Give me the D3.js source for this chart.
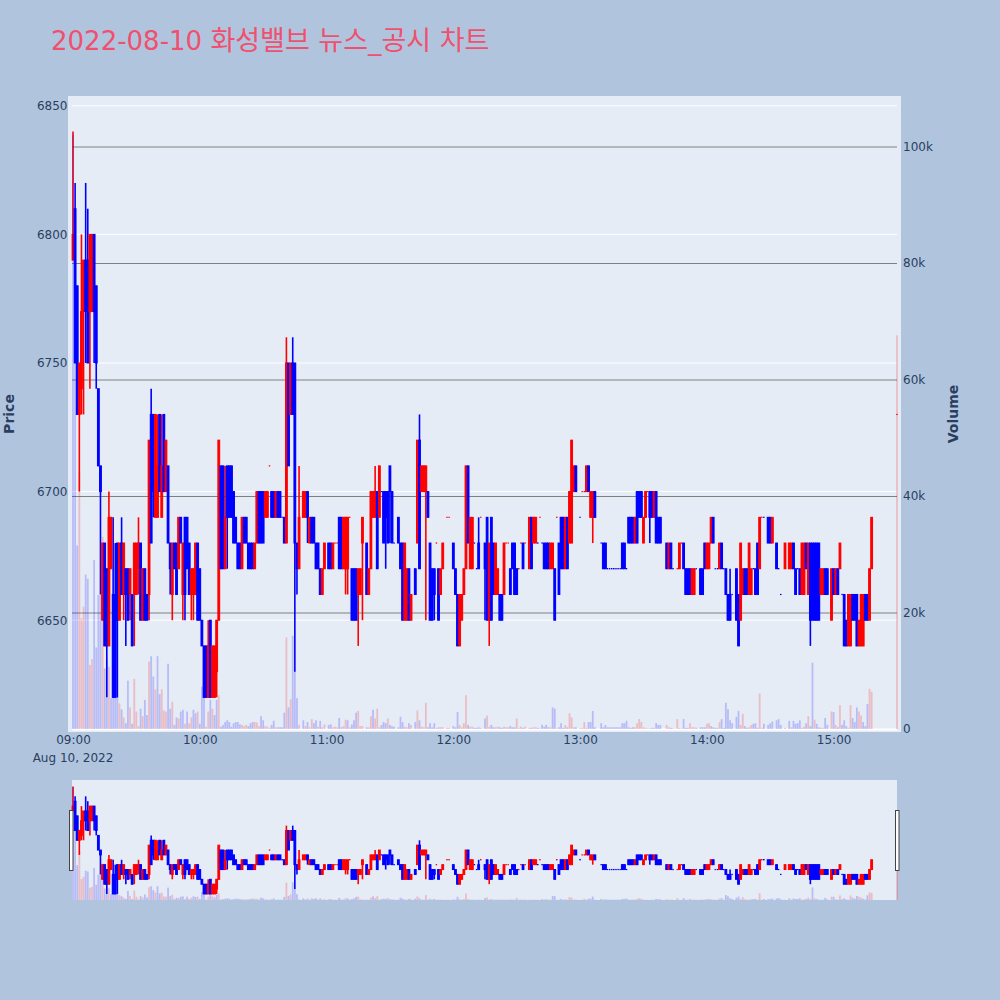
<!DOCTYPE html>
<html><head><meta charset="utf-8">
<script src="https://cdn.jsdelivr.net/npm/d3@7"></script>
<style>html,body{margin:0;padding:0;background:#b0c4de}svg{display:block}text{font-family:"DejaVu Sans","Noto Sans CJK KR",sans-serif}</style>
</head><body><div id="chart"></div>
<script>
const chartTitle = "2022-08-10 화성밸브 뉴스_공시 차트";
const priceTicks = [6650,6700,6750,6800,6850];
const volumeTicks = [0,20000,40000,60000,80000,100000];
const hourTicks = [9,10,11,12,13,14,15];

const minutes = [
0,1,2,3,4,5,6,7,8,9, 10,11,12,13,14,15,16,17,18,19,
20,21,22,23,24,25,26,27,28,29, 30,31,32,33,34,35,36,37,38,39,
40,41,42,43,44,45,46,47,48,49, 50,51,52,53,54,55,56,57,58,59,
60,61,62,63,64,65,66,67,68,69, 70,71,72,73,74,75,76,77,78,79,
80,81,82,83,84,85,86,87,88,89, 90,91,92,93,94,95,96,97,98,99,
100,101,102,103,104,105,106,107,109,110, 111,112,113,114,115,116,117,118,119,121,
122,123,124,125,126,127,128,129,130,131, 132,133,134,135,136,137,139,140,141,142,
143,144,145,146,147,148,149,150,151,152, 154,155,156,157,158,159,160,162,163,164,
165,166,167,168,169,170,171,172,173,174, 175,177,178,180,181,182,183,184,185,186,
187,188,189,190,191,192,193,195,196,197, 198,199,200,201,202,203,204,205,206,207,
208,209,210,211,212,213,214,216,217,218, 219,220,221,222,223,224,225,226,227,228,
229,230,231,232,233,234,235,236,237,238, 240,241,242,243,244,245,246,247,250,251,
252,253,254,255,256,257,258,259,260,261, 262,263,264,265,266,267,268,269,270,271,
272,273,274,275,276,277,278,281,282,283, 284,286,287,288,289,290,291,292,293,294,
295,297,298,299,300,301,302,303,304,305, 306,307,308,309,310,311,312,314,315,316,
317,318,319,320,321,322,323,324,325,326, 327,329,330,331,333,334,335,337,339,340,
341,342,343,344,345,346,347,348,349,350, 351,352,353,354,355,356,357,359,360,361,
362,363,364,365,366,367,368,369,370,371, 372,373,374,375,376,377,378,390];

const opens = [
6790,6810,6780,6730,6740,6770,6790,6790,6770,6770, 6800,6780,6740,6710,6650,6680,6670,6640,6670,6660,
6660,6680,6650,6680,6660,6670,6670,6660,6660,6660, 6660,6670,6680,6650,6670,6660,6660,6730,6730,6690,
6690,6730,6690,6730,6700,6710,6680,6660,6680,6680, 6670,6690,6660,6690,6690,6680,6660,6660,6660,6680,
6670,6650,6640,6640,6620,6650,6620,6620,6630,6650, 6710,6710,6670,6710,6710,6710,6700,6690,6680,6680,
6670,6690,6690,6680,6680,6680,6670,6680,6700,6700, 6700,6690,6690,6710,6700,6700,6690,6700,6700,6690,
6690,6680,6750,6730,6750,6750,6680,6670,6690,6690, 6700,6680,6690,6690,6680,6680,6670,6660,6670,6680,
6680,6670,6680,6680,6690,6690,6670,6670,6670,6690, 6670,6670,6670,6660,6660,6680,6680,6660,6670,6690,
6690,6700,6690,6700,6700,6700,6700,6710,6700,6680, 6690,6680,6680,6650,6650,6670,6650,6670,6680,6720,
6700,6700,6700,6700,6680,6670,6670,6680,6670,6660, 6670,6690,6690,6680,6670,6660,6640,6650,6660,6670,
6710,6670,6670,6680,6670,6680,6690,6680,6690,6650, 6690,6680,6660,6660,6660,6660,6660,6680,6680,6670,
6680,6680,6670,6670,6680,6680,6680,6670,6690,6680, 6680,6680,6690,6680,6680,6680,6680,6670,6670,6670,
6690,6680,6690,6690,6670,6690,6680,6680,6700,6710, 6690,6700,6700,6700,6710,6690,6690,6700,6680,6680,
6680,6670,6670,6670,6670,6670,6670,6670,6680,6680, 6670,6690,6690,6690,6680,6700,6700,6700,6680,6690,
6700,6700,6700,6690,6700,6690,6690,6680,6670,6680, 6670,6670,6670,6680,6680,6670,6670,6670,6660,6660,
6670,6670,6670,6680,6670,6670,6680,6690,6670,6670, 6670,6680,6670,6670,6660,6660,6660,6670,6660,6650,
6660,6670,6670,6660,6660,6670,6670,6680,6670,6690, 6690,6690,6690,6680,6680,6670,6660,6670,6670,6670,
6680,6670,6670,6670,6660,6660,6680,6660,6680,6680, 6680,6680,6680,6660,6660,6670,6670,6650,6670,6660,
6670,6670,6660,6660,6650,6640,6640,6660,6660,6660, 6640,6640,6640,6660,6660,6650,6670,6730];

const closes = [
6800,6750,6730,6750,6770,6790,6770,6750,6800,6800, 6770,6750,6710,6700,6680,6640,6640,6690,6690,6620,
6620,6650,6680,6660,6680,6660,6650,6670,6640,6680, 6680,6680,6650,6670,6650,6650,6720,6680,6700,6730,
6710,6700,6710,6700,6720,6680,6670,6680,6670,6660, 6690,6680,6680,6660,6670,6660,6670,6670,6680,6650,
6650,6640,6620,6620,6640,6620,6640,6640,6650,6720, 6670,6670,6690,6690,6690,6690,6680,6680,6670,6670,
6690,6680,6680,6670,6670,6670,6680,6700,6680,6680, 6680,6700,6700,6710,6690,6690,6700,6690,6690,6690,
6680,6750,6710,6750,6730,6680,6670,6690,6700,6700, 6690,6690,6680,6680,6670,6670,6660,6670,6680,6670,
6670,6680,6680,6680,6670,6670,6690,6690,6690,6690, 6650,6650,6650,6670,6670,6690,6660,6670,6700,6700,
6700,6670,6710,6700,6680,6690,6680,6700,6680,6680, 6680,6670,6650,6680,6670,6650,6660,6660,6720,6670,
6710,6710,6710,6690,6650,6650,6660,6680,6650,6670, 6680,6690,6690,6670,6660,6640,6660,6660,6670,6710,
6680,6690,6690,6680,6670,6670,6690,6670,6650,6680, 6650,6660,6680,6670,6650,6650,6680,6680,6680,6660,
6670,6660,6660,6670,6680,6670,6680,6690,6670,6690, 6690,6680,6690,6680,6670,6670,6670,6680,6680,6650,
6690,6660,6670,6670,6690,6670,6700,6720,6710,6700, 6690,6700,6700,6710,6700,6700,6700,6690,6680,6670,
6670,6670,6670,6670,6670,6670,6670,6670,6670,6670, 6670,6680,6680,6680,6690,6680,6690,6690,6690,6700,
6700,6690,6690,6700,6680,6680,6680,6670,6680,6670, 6670,6670,6680,6680,6670,6660,6660,6660,6670,6670,
6670,6660,6660,6670,6680,6680,6690,6680,6670,6670, 6680,6670,6670,6660,6650,6650,6660,6650,6640,6680,
6670,6660,6660,6680,6670,6670,6660,6660,6690,6690, 6690,6680,6680,6690,6670,6670,6660,6680,6680,6680,
6670,6660,6670,6660,6680,6680,6670,6680,6650,6650, 6650,6650,6650,6670,6670,6660,6660,6670,6660,6670,
6660,6680,6660,6640,6640,6660,6660,6650,6650,6640, 6650,6660,6660,6650,6650,6670,6690,6730];

// volume in thousands of shares
const volumes = [
102,68,31.5,44,19,21,26.5,25.8,11,12, 29,14,23,23,33,10.4,12,10.7,5.3,10.7,
10.7,5.5,4.4,3.4,2,1,8.3,3.7,.9,8.6, 3,.5,3.5,2.2,5,2.4,11.6,12.5,9,6.8,
12.5,6,6.8,3.2,3,11.2,3.5,4.7,.7,2, 1.8,3,3.3,.9,3,1,2,3.3,2.7,3,
.9,7.3,6,.4,3,5,3.5,2.4,5,5.8, .4,.7,1.2,1.5,1.2,.4,1,1.2,1.2,.8,
.7,.5,.7,.5,1,1.2,1.2,1.1,.5,2.2, 1.5,.5,.4,.2,.7,1.4,.3,.3,.3,.3,
2.8,15.7,3.7,5.1,16,10,5.3,.7,1.5,.5, 1.2,.3,1.7,1,1.5,.4,1.4,.3,.8,.7,
.8,.3,.4,.3,1.9,.3,.5,1.6,1.5,.3, .8,1.5,2.8,3.1,.5,.5,.3,.3,2.2,3.3,
1.8,3.5,.3,.7,1.2,1,1.8,.7,.5,.4, .3,2.1,1.2,.4,.3,1,.7,1.2,3.2,1.5,
.4,.3,4.5,.3,1,.3,1,.2,.3,.3, .3,.2,.2,.5,.3,2.9,.7,.3,1,5.8,
.7,.4,.4,.2,.2,.3,.2,1.8,2.3,.4, .7,.3,.3,.4,.3,.2,.4,.3,.3,.5,
.3,.3,1.8,.2,.4,.2,.4,.2,.2,.3, .3,.2,.1,.7,.4,.7,.3,.3,3.7,3.5,
.1,.3,1,.2,.7,.3,2.7,2,.3,.3, .1,.2,1.2,.2,1.2,1.2,3.1,.3,1,.3,
.7,.3,.3,.3,.3,.3,.3,.3,1,1, 1.4,.3,.2,.3,.3,1,1.7,1.2,.3,.2,
.1,.1,.2,.2,1,.7,.7,.7,.3,.2, .1,1.7,.2,.1,1.7,.2,.2,1,.3,.3,
.2,.3,.3,.3,.9,1,.5,.3,.2,.2, 1.2,1.7,.2,4.5,3.4,1.5,1,2.1,3.1,.7,
2.6,.5,.2,.3,.7,.9,1,.2,6.1,.2, .9,.7,1,1.3,1.5,1.7,.7,.2,1.4,.3,
1.4,.9,1,1.5,.2,.4,1,2.2,.5,11.4, 1.6,.9,.3,.2,.2,1.9,.7,3,2.9,.7,
.3,4.1,.7,1.5,.5,.2,4.1,1.9,1.2,3.7, 3,2.3,1.2,.5,4.3,6.9,6.4,67.6];

// 1 = rising minute colour for the volume bar and for flat candles
const volumeUp = [
0,0,0,1,1,1,0,0,1,1, 0,0,0,0,1,0,0,1,0,0,
0,0,1,0,1,0,0,1,0,1, 1,1,0,1,0,0,1,0,0,1,
0,0,1,1,1,0,0,1,0,0, 1,0,0,1,0,1,1,0,0,1,
0,0,0,1,1,0,1,0,0,1, 0,0,0,0,0,0,0,0,0,0,
1,1,1,0,0,0,1,1,1,0, 0,1,1,1,0,0,1,0,0,0,
0,1,0,1,0,0,0,1,0,1, 0,1,1,0,0,1,0,1,1,0,
0,1,1,1,0,0,1,1,0,1, 0,0,0,1,1,1,0,1,1,0,
1,1,1,0,0,0,1,0,0,0, 0,0,0,1,1,0,1,0,1,0,
1,1,1,0,0,0,0,1,0,1, 1,1,1,0,0,0,1,1,1,1,
0,1,1,0,0,0,1,0,1,1, 0,0,1,1,0,0,1,1,1,0,
0,0,1,1,1,0,1,1,0,1, 1,0,1,0,0,0,0,1,0,0,
1,0,0,0,1,0,1,1,1,0, 0,1,1,1,0,0,0,0,0,0,
0,0,0,0,0,0,0,0,0,0, 0,0,0,0,1,1,1,1,1,1,
1,0,0,1,0,0,0,1,1,0, 0,1,1,1,0,0,0,1,1,1,
0,0,0,0,1,1,0,0,0,0, 1,0,0,0,0,0,0,0,0,1,
1,0,0,1,1,0,0,0,1,1, 0,0,0,0,0,0,0,1,0,1,
0,0,0,0,1,1,0,1,0,0, 1,0,0,1,1,0,0,1,0,1,
0,1,0,0,0,1,1,0,0,0, 1,1,0,0,0,1,1,1];

// wicks that reach beyond the candle body
const wickHighMinutes = [0,1,4,6,7,17,19,20,23,31,37,38,40,42,64,72,101,104,107,143,164,192,311];
const wickHighs =       [6840,6820,6800,6820,6810,6700,6690,6680,6690,6690,6740,6730,6730,6730,6650,6710,6760,6760,6710,6710,6730,6690,6670];
const wickLowMinutes = [3,4,5,6,8,10,11,13,16,21,24,25,27,29,31,36,38,46,47,52,53,56,57,68,73,105,106,111,129,130,135,137,148,150,167,171,195,197,246,273,349];
const wickLows =       [6700,6730,6730,6750,6740,6750,6740,6660,6620,6620,6650,6640,6650,6640,6660,6650,6690,6660,6650,6650,6650,6650,6650,6620,6670,6630,6660,6680,6660,6660,6640,6650,6670,6680,6650,6650,6650,6640,6680,6680,6640];

const T0 = new Date(2022,7,10,9,0);
const timeOf = m => d3.timeMinute.offset(T0, m);
const UP = "#ff0000", DOWN = "#0000ff", INK = "#2a3f5f";
const highOf = new Map(wickHighMinutes.map((m,i)=>[m,wickHighs[i]]));
const lowOf = new Map(wickLowMinutes.map((m,i)=>[m,wickLows[i]]));
const rows = minutes.map((m,i)=>({
  t: timeOf(m), o: opens[i], c: closes[i],
  h: highOf.has(m) ? highOf.get(m) : Math.max(opens[i],closes[i]),
  l: lowOf.has(m) ? lowOf.get(m) : Math.min(opens[i],closes[i]),
  v: volumes[i]*1000, vUp: volumeUp[i]
}));
const color = d => d.c>d.o ? UP : d.c<d.o ? DOWN : (d.vUp ? UP : DOWN);

const svg = d3.select("#chart").append("svg").attr("width",1000).attr("height",1000);
svg.append("rect").attr("width",1000).attr("height",1000).attr("fill","#b0c4de");

const x = d3.scaleTime().domain([T0,timeOf(390)]).range([73,897]);
const y = d3.scaleLinear().domain([6650,6850]).range([620.2,105.8]);
const yV = d3.scaleLinear().domain([0,100000]).range([729,146.5]);
// range slider uses the same domains over a short band
const ySlide = d3.scaleLinear().domain([6607.6,6853.5]).range([900,780]);
const yVSlide = d3.scaleLinear().domain([0,108400]).range([900,780]);

svg.append("rect").attr("x",68).attr("y",96).attr("width",833).attr("height",636).attr("fill","#e5ecf6");
svg.append("rect").attr("x",72).attr("y",780).attr("width",825).attr("height",120).attr("fill","#e5ecf6");

// grid
svg.append("g").selectAll("line").data(priceTicks).join("line")
  .attr("x1",72).attr("x2",897).attr("y1",d=>y(d)).attr("y2",d=>y(d))
  .attr("stroke","#fff").attr("stroke-width",1);
svg.append("g").selectAll("line").data(volumeTicks.filter(d=>d>0)).join("line")
  .attr("x1",72).attr("x2",897).attr("y1",d=>yV(d)+.5).attr("y2",d=>yV(d)+.5)
  .attr("stroke","#808080").attr("stroke-width",1);
svg.append("line").attr("x1",72).attr("x2",897).attr("y1",yV(0)+.5).attr("y2",yV(0)+.5)
  .attr("stroke","#fff").attr("stroke-width",2);

function drawMarks(g, yP, yVol){
  const c = g.append("g");
  c.selectAll("line").data(rows).join("line")
    .attr("x1",d=>x(d.t)).attr("x2",d=>x(d.t))
    .attr("y1",d=>yP(d.h)).attr("y2",d=>yP(d.l))
    .attr("stroke",color).attr("stroke-width",1.6);
  c.selectAll("rect").data(rows).join("rect")
    .attr("x",d=>x(d.t)-(d.o===d.c?.3:.9)).attr("width",d=>d.o===d.c?.6:1.8)
    .attr("y",d=>Math.min(yP(d.o),yP(d.c)) - (d.o===d.c?.2:0))
    .attr("height",d=>d.o===d.c?.4:Math.abs(yP(d.o)-yP(d.c)))
    .attr("fill",color).attr("stroke",color).attr("stroke-width",d=>d.o===d.c?.8:1);
  g.append("g").selectAll("rect").data(rows).join("rect")
    .attr("x",d=>x(d.t)-.9).attr("width",1.8)
    .attr("y",d=>yVol(d.v)).attr("height",d=>yVol(0)-yVol(d.v))
    .attr("fill",d=>d.vUp?UP:DOWN).attr("fill-opacity",.2);
}
drawMarks(svg.append("g"), y, yV);
drawMarks(svg.append("g"), ySlide, yVSlide);

// axes
const styleAxis = g => {
  g.select(".domain").remove();
  g.selectAll("line").remove();
  g.selectAll("text").attr("fill",INK).attr("font-size",12);
};
svg.append("g").attr("transform","translate(67.5,0)")
  .call(d3.axisLeft(y).tickValues(priceTicks).tickSize(0).tickPadding(0).tickFormat(d3.format("d"))).call(styleAxis);
svg.append("g").attr("transform","translate(903,0)")
  .call(d3.axisRight(yV).tickValues(volumeTicks).tickSize(0).tickPadding(0)
    .tickFormat(d=>d===0?"0":(d/1000)+"k")).call(styleAxis);
const hours = hourTicks.map(h=>new Date(2022,7,10,h,0));
svg.append("g").attr("transform","translate(0,735)")
  .call(d3.axisBottom(x).tickValues(hours).tickSize(0).tickPadding(0).tickFormat(d3.timeFormat("%H:%M"))).call(styleAxis);
svg.append("text").attr("x",x(T0)).attr("y",762).attr("text-anchor","middle")
  .attr("font-size",12).attr("fill",INK).text("Aug 10, 2022");

svg.append("text").attr("transform","translate(14,414) rotate(-90)").attr("text-anchor","middle")
  .attr("font-size",14).attr("font-weight","bold").attr("fill",INK).text("Price");
svg.append("text").attr("transform","translate(958,414) rotate(-90)").attr("text-anchor","middle")
  .attr("font-size",14).attr("font-weight","bold").attr("fill",INK).text("Volume");

const titleText = svg.append("text").attr("x",51).attr("y",50).attr("fill","#f0506e");
titleText.append("tspan").attr("font-size",26).attr("xml:space","preserve").text(chartTitle.slice(0,11));
titleText.append("tspan").attr("font-size",27).text(chartTitle.slice(11));

// range slider handles
[[69.5],[895.5]].forEach(([hx])=>{
  svg.append("rect").attr("x",hx).attr("y",810.5).attr("width",3.5).attr("height",60)
    .attr("fill","#fff").attr("stroke","#444").attr("stroke-width",1);
});
</script></body></html>
